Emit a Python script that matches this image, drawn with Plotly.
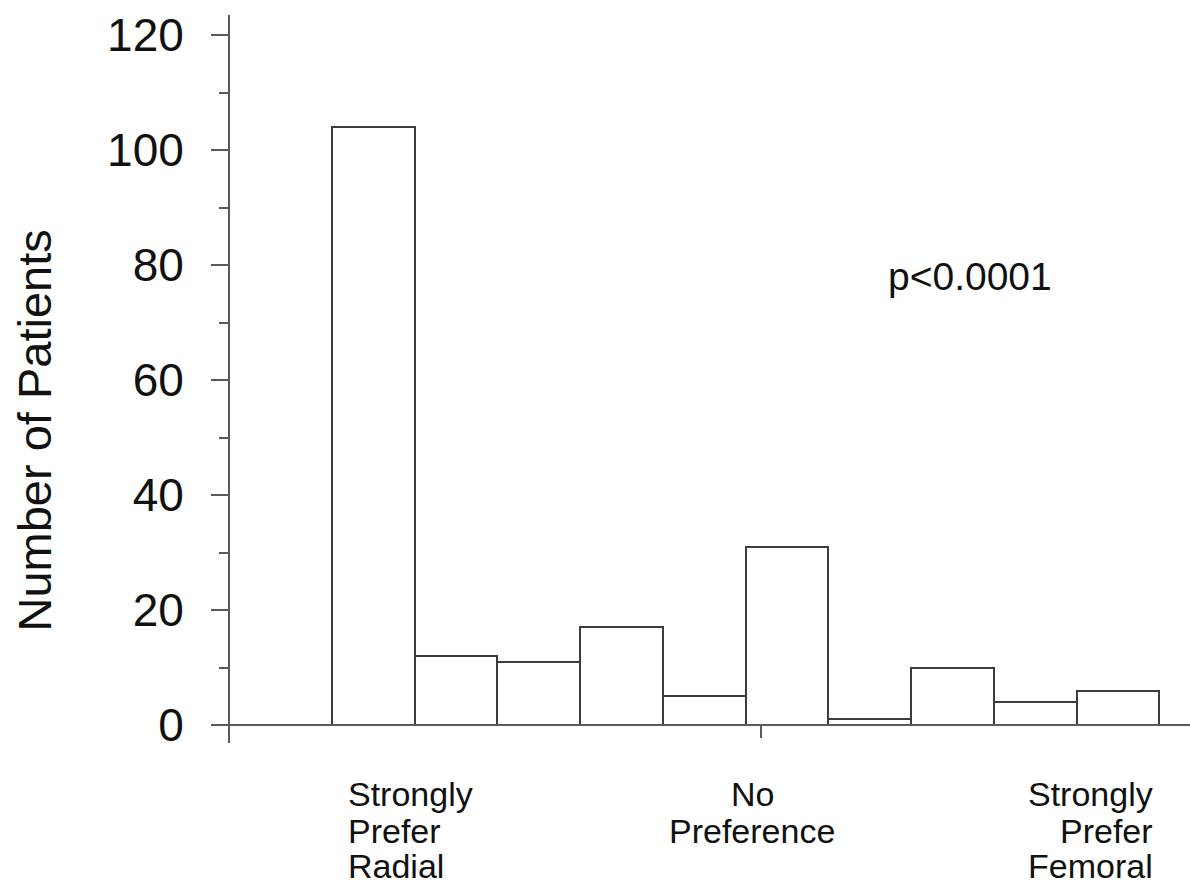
import plotly.graph_objects as go

# ---- data ----
bins = [1, 2, 3, 4, 5, 6, 7, 8, 9, 10]
patients = [104, 12, 11, 17, 5, 31, 1, 10, 4, 6]
y_ticks = [0, 20, 40, 60, 80, 100, 120]
label_left = ["Strongly", "Prefer", "Radial"]
label_mid = ["No", "Preference"]
label_right = ["Strongly", "Prefer", "Femoral"]
y_title = "Number of Patients"
p_text = "p<0.0001"

FONT = "Liberation Sans, Arial, Helvetica, sans-serif"
AX = "#5a5a5a"
TXT = "#111111"

fig = go.Figure()
fig.add_trace(go.Bar(
    x=bins, y=patients, width=1,
    marker=dict(color="white", line=dict(color="#3c3c3c", width=2)),
    showlegend=False, hoverinfo="x+y",
))

y_lo, y_hi = -3.13, 123.48
zero_pos = (0 - y_lo) / (y_hi - y_lo)

fig.update_layout(
    width=1190, height=884,
    margin=dict(l=230, r=0, t=15, b=141),
    paper_bgcolor="white", plot_bgcolor="white",
    bargap=0,
    font=dict(family=FONT, color=TXT),
    xaxis=dict(
        range=[-0.733, 10.871], anchor="free", position=zero_pos,
        showline=True, linecolor=AX, linewidth=2,
        showgrid=False, zeroline=False,
        tickmode="array", tickvals=[5.69], ticktext=[""],
        ticks="outside", ticklen=12, tickwidth=1.5, tickcolor=AX,
    ),
    yaxis=dict(
        range=[y_lo, y_hi],
        showline=True, linecolor=AX, linewidth=2,
        showgrid=False, zeroline=False,
        tickmode="array", tickvals=y_ticks,
        ticks="outside", ticklen=17, tickwidth=2, tickcolor=AX,
        tickfont=dict(size=46, family=FONT, color=TXT),
        ticklabelstandoff=18,
        minor=dict(dtick=10, tick0=0, ticks="outside", ticklen=9,
                   tickwidth=1.5, tickcolor=AX, showgrid=False),
    ),
)

def px_to_paper_y(p):
    return (743 - p) / 728

def px_to_data_x(p):
    return 0.5 + (p - 332) / 82.73

line_centers = [794, 831, 866]
ann = []
for i, t in enumerate(label_left):
    ann.append(dict(x=px_to_data_x(346), xref="x", xanchor="left",
                    y=px_to_paper_y(line_centers[i]), yref="paper", yanchor="middle",
                    text=t, showarrow=False, font=dict(size=34, family=FONT, color=TXT)))
for i, t in enumerate(label_mid):
    ann.append(dict(x=px_to_data_x(752), xref="x", xanchor="center",
                    y=px_to_paper_y(line_centers[i]), yref="paper", yanchor="middle",
                    text=t, showarrow=False, font=dict(size=34, family=FONT, color=TXT)))
for i, t in enumerate(label_right):
    ann.append(dict(x=px_to_data_x(1155), xref="x", xanchor="right",
                    y=px_to_paper_y(line_centers[i]), yref="paper", yanchor="middle",
                    text=t, showarrow=False, font=dict(size=34, family=FONT, color=TXT)))

ann.append(dict(x=(34 - 230) / 960, xref="paper", xanchor="center",
                y=px_to_paper_y(430.5), yref="paper", yanchor="middle",
                text=y_title, textangle=-90, showarrow=False,
                font=dict(size=47, family=FONT, color=TXT)))
ann.append(dict(x=(969.5 - 230) / 960, xref="paper", xanchor="center",
                y=px_to_paper_y(276.5), yref="paper", yanchor="middle",
                text=p_text, showarrow=False,
                font=dict(size=39, family=FONT, color=TXT)))

fig.update_layout(annotations=ann)
fig.write_html("out.html")
